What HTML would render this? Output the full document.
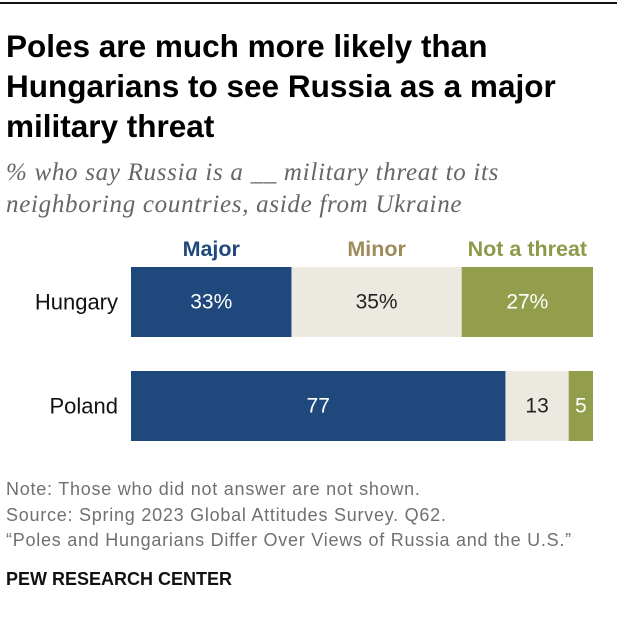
<!DOCTYPE html>
<html><head><meta charset="utf-8"><style>
body{margin:0;background:#fff;font-family:"Liberation Sans",sans-serif;}
#c{position:relative;width:620px;height:628px;overflow:hidden;}
.a{position:absolute;white-space:nowrap;}
</style></head><body>
<div id="c">
<div class="a" style="left:0;top:2px;width:617px;height:2px;background:#111"></div>
<div class="a" style="left:6px;top:26px;font-size:31.5px;font-weight:bold;line-height:40px;color:#000">Poles are much more likely than<br>Hungarians to see Russia as a major<br>military threat</div>
<div class="a" style="left:6px;top:157px;font-family:'Liberation Serif',serif;font-style:italic;font-size:25px;letter-spacing:0.7px;line-height:32px;color:#666">% who say Russia is a __ military threat to its<br>neighboring countries, aside from Ukraine</div>
<svg class="a" style="left:0;top:0" width="620" height="628" id="svg"></svg>
<div class="a" style="left:6px;top:477px;font-size:18px;letter-spacing:0.75px;line-height:25.5px;color:#707070">Note: Those who did not answer are not shown.<br>Source: Spring 2023 Global Attitudes Survey. Q62.<br>“Poles and Hungarians Differ Over Views of Russia and the U.S.”</div>
<div class="a" style="left:6px;top:569px;font-size:18px;font-weight:bold;color:#111">PEW RESEARCH CENTER</div>
</div>
<script>
const categories=["Hungary","Poland"];
const seriesNames=["Major","Minor","Not a threat"];
const major=[33,77];
const minor=[35,13];
const notThreat=[27,5];
const labelsMajor=["33%","77"];
const labelsMinor=["35%","13"];
const labelsNot=["27%","5"];
const NS="http://www.w3.org/2000/svg";
const svg=document.getElementById('svg');
const x0=131,pxPerUnit=462/95;
const rowY=[267,371],barH=70;
const colors=["#1f497d","#ece9e1","#939e4d"];
const legendColors=["#1f497d","#a08c5a","#8c9a4a"];
const textColors=["#fff","#222","#fff"];
const series=[major,minor,notThreat];
const labels=[labelsMajor,labelsMinor,labelsNot];
function xs(v){return v*pxPerUnit;}
function txt(x,y,s,opt){const t=document.createElementNS(NS,'text');t.setAttribute('x',x);t.setAttribute('y',y);t.setAttribute('font-family','Liberation Sans, sans-serif');t.setAttribute('font-size',opt.size||21);t.setAttribute('fill',opt.fill||'#222');t.setAttribute('text-anchor',opt.anchor||'middle');t.setAttribute('dominant-baseline','central');if(opt.bold)t.setAttribute('font-weight','bold');t.textContent=s;svg.appendChild(t);return t;}
categories.forEach((c,i)=>{
  const l=txt(118,rowY[i]+barH/2,c,{anchor:'end',fill:'#111',size:22});
  
  
  let acc=0;
  series.forEach((s,j)=>{
    const r=document.createElementNS(NS,'rect');
    const x=x0+xs(acc),w=xs(s[i]);
    r.setAttribute('x',x);r.setAttribute('y',rowY[i]);r.setAttribute('width',w);r.setAttribute('height',barH);r.setAttribute('fill',colors[j]);
    
    
    svg.appendChild(r);
    const t=txt(x+w/2,rowY[i]+barH/2,labels[j][i],{fill:textColors[j]});
    
    
    acc+=s[i];
  });
});
let acc=0;
seriesNames.forEach((n,j)=>{
  const w=xs(series[j][0]);
  const t=txt(x0+xs(acc)+w/2,249,n,{bold:true,fill:legendColors[j],size:21.5});
  
  
  acc+=series[j][0];
});
</script>
</body></html>
